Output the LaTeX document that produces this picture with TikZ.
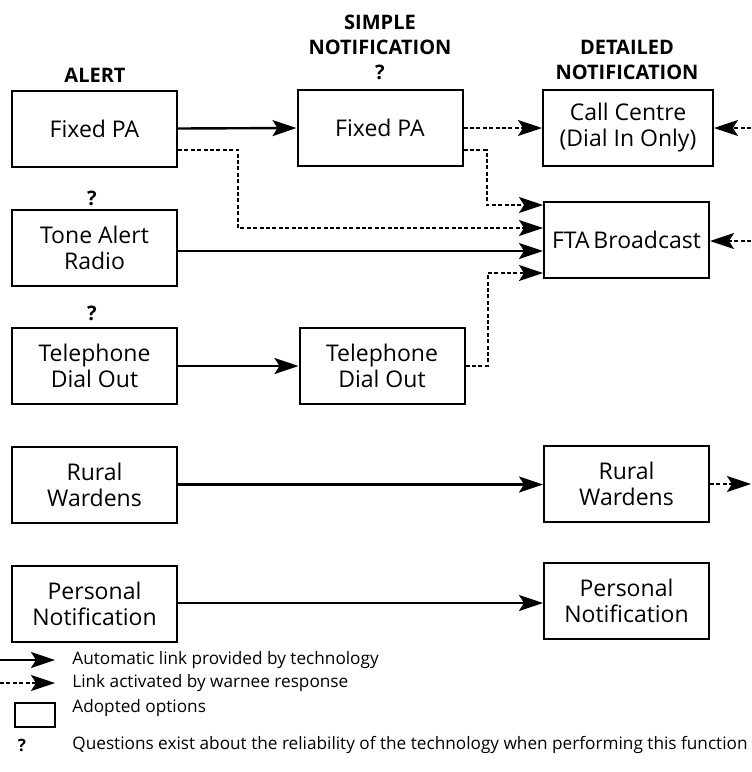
\documentclass[tikz,border=0pt]{standalone}
\usepackage{fontspec}
\setmainfont{Open Sans}
\usetikzlibrary{positioning,calc,arrows.meta}

\tikzset{
    optbox/.style={draw, line width=1pt, minimum width=82.5pt, minimum height=38pt,
        inner sep=2pt, align=center, font=\fontsize{11.5}{13}\selectfont},
    colhead/.style={align=center, font=\bfseries\fontsize{10}{12.5}\selectfont},
    auto link/.style={line width=1.2pt, -{Stealth[length=12pt,width=8pt,inset=2.5pt]}},
    resp link/.style={line width=1pt, dash pattern=on 2pt off 1.2pt,
        -{Stealth[length=12pt,width=8pt,inset=2.5pt]}},
    keytext/.style={anchor=west, inner sep=0pt, font=\fontsize{8.6}{10}\selectfont}
}

\begin{document}
\begin{tikzpicture}[x=0.5pt, y=-0.5pt]
    \useasboundingbox (0, 0) rectangle (751, 772);

    % Column heads
    \node [colhead] (headAlert) at (95, 75) {ALERT};
    \node [colhead] (headSimple) at (380, 47) {SIMPLE\\NOTIFICATION\\?};
    \node [colhead] (headDetail) at (627, 60) {DETAILED\\NOTIFICATION};
    \node [colhead] (askTone) at (92, 198) {?};
    \node [colhead] (askPhone) at (92, 313) {?};

    % Alert column
    \node [optbox] (alertPA) at (94.5, 128.5) {Fixed PA};
    \node [optbox] (toneRadio) at (94.5, 247.5) {Tone Alert\\Radio};
    \node [optbox] (alertPhone) at (94.5, 366) {Telephone\\Dial Out};
    \node [optbox] (alertWardens) at (94.5, 484.5) {Rural\\Wardens};
    \node [optbox] (alertPersonal) at (94.5, 604) {Personal\\Notification};

    % Simple notification column
    \node [optbox] (simplePA) at (380, 128) {Fixed PA};
    \node [optbox] (simplePhone) at (382, 366) {Telephone\\Dial Out};

    % Detailed notification column
    \node [optbox, minimum width=85pt] (callCentre) at (628, 128) {Call Centre\\(Dial In Only)};
    \node [optbox] (ftaCast) at (626.5, 240) {FTA\,Broadcast};
    \node [optbox] (detailWardens) at (626.5, 484) {Rural\\Wardens};
    \node [optbox] (detailPersonal) at (626.5, 600.5) {Personal\\Notification};

    % Automatic links
    \coordinate (ftaInTone) at ($(ftaCast.west)+(0, 11)$);
    \draw [auto link] (alertPA.east) -- (simplePA.west);
    \draw [auto link] (toneRadio.east |- ftaInTone) -- (ftaInTone);
    \draw [auto link] (alertPhone.east) -- (simplePhone.west);
    \draw [auto link] (alertWardens.east) -- (alertWardens.east -| detailWardens.west);
    \draw [auto link] ($(alertPersonal.east)+(0, -1)$) -- ($(alertPersonal.east -| detailPersonal.west)+(0, -1)$);

    % Links activated by warnee response
    \draw [resp link] (simplePA.east) -- (simplePA.east -| callCentre.west);
    \draw [resp link] ($(alertPA.east)+(0, 21)$) -- ++(60, 0) |- ($(ftaCast.west)+(0, -12)$);
    \draw [resp link] ($(simplePA.east)+(0, 22)$) -- ++(23, 0) |- ($(ftaCast.west)+(0, -35)$);
    \draw [resp link] (simplePhone.east) -- ++(22, 0) |- ($(ftaCast.west)+(0, 33)$);
    \coordinate (fromRightCall) at (751, 128);
    \coordinate (fromRightFta) at (751, 241);
    \coordinate (toRightWardens) at (751, 484);
    \draw [resp link] (fromRightCall) -- (callCentre.east);
    \draw [resp link] (fromRightFta) -- (ftaCast.east |- fromRightFta);
    \draw [resp link] (detailWardens.east) -- (toRightWardens);

    % Key
    \coordinate (keyAuto) at (0, 660);
    \coordinate (keyResp) at (0, 683);
    \draw [auto link] (keyAuto) -- ++(55, 0);
    \draw [resp link] (keyResp) -- ++(55, 0);
    \node [draw, line width=1pt, minimum width=20pt, minimum height=12pt, inner sep=0pt] (keyBox) at (35, 715) {};
    \node [colhead, font=\bfseries\fontsize{8.5}{10}\selectfont] (keyAsk) at (22, 745) {?};
    \node [keytext] (keyAutoText) at (72, 660) {Automatic link provided by technology};
    \node [keytext] (keyRespText) at (72, 683) {Link activated by warnee response};
    \node [keytext] (keyBoxText) at (72, 708) {Adopted options};
    \node [keytext] (keyAskText) at (72, 745) {Questions exist about the reliability of the technology when performing this function};
\end{tikzpicture}
\end{document}
